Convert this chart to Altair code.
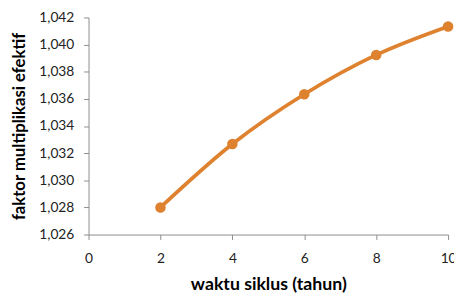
import altair as alt
import pandas as pd

waktu = [2, 4, 6, 8, 10]
faktor = [1.0280, 1.03267, 1.03634, 1.03924, 1.04134]

df = pd.DataFrame({"waktu": waktu, "faktor": faktor})

FONT = "Lato"
ORANGE = "#DE8230"

x = alt.X("waktu:Q", scale=alt.Scale(domain=[0, 10], nice=False, zero=False),
          axis=alt.Axis(title="waktu siklus (tahun)", values=[0, 2, 4, 6, 8, 10],
                        grid=False, tickSize=5, labelPadding=12, titlePadding=11,
                        labelFontSize=14, titleFontSize=18, labelFlush=False))
y = alt.Y("faktor:Q", scale=alt.Scale(domain=[1.026, 1.042], nice=False, zero=False),
          axis=alt.Axis(title="faktor multiplikasi efektif",
                        values=[1.026, 1.028, 1.030, 1.032, 1.034, 1.036, 1.038, 1.040, 1.042],
                        labelExpr="replace(format(datum.value, '.3f'), '.', ',')",
                        grid=False, tickSize=5, labelPadding=10, titlePadding=11,
                        labelFontSize=14, titleFontSize=17))

line = alt.Chart(df).mark_line(color=ORANGE, strokeWidth=3.8, interpolate="monotone").encode(x=x, y=y)
pts = alt.Chart(df).mark_point(color=ORANGE, filled=True, opacity=1, size=115).encode(x=x, y=y)

chart = (line + pts).properties(
    width=366, height=221,
    autosize=alt.AutoSizeParams(type="none"),
    padding={"left": 82, "top": 7, "right": 6, "bottom": 64},
).configure_view(stroke=None).configure_axis(
    domainColor="#8c8c8c", tickColor="#8c8c8c", labelColor="#222222",
    titleColor="#000000", labelFont=FONT, titleFont=FONT, titleFontWeight="bold",
)

chart.save("out.html", embed_options={"renderer": "svg", "actions": False})
